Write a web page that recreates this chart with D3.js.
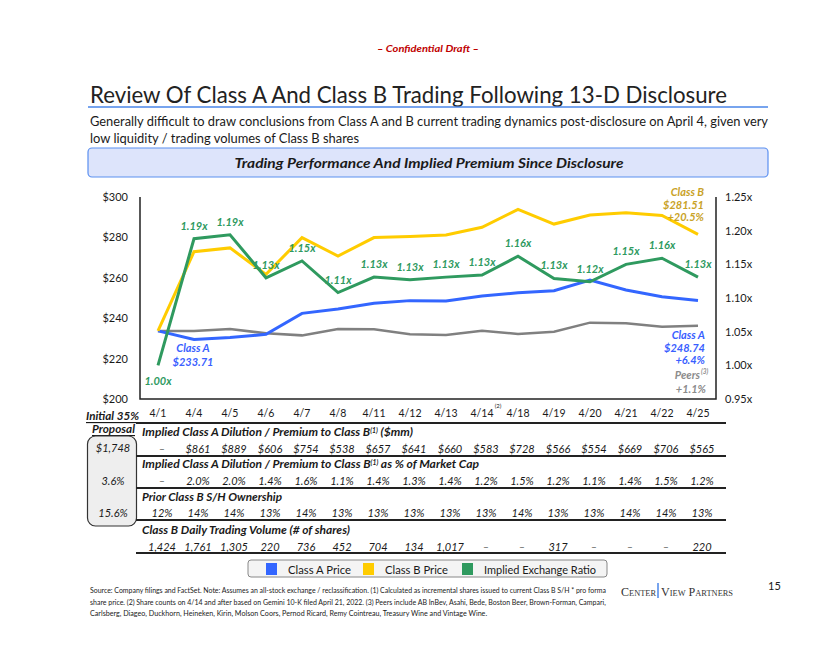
<!DOCTYPE html>
<html>
<head>
<meta charset="utf-8">
<script src="https://cdn.jsdelivr.net/npm/d3@7"></script>
<style>
  body { margin: 0; background: #fff; }
  svg { display: block; font-family: Lato, "Open Sans", sans-serif; }
</style>
</head>
<body>
<div id="chart"></div>
<script>
// chart data
var dates = ["4/1","4/4","4/5","4/6","4/7","4/8","4/11","4/12","4/13","4/14","4/18","4/19","4/20","4/21","4/22","4/25"];
var classA = [233.71,229.5,230.4,232.0,242.4,244.6,247.4,248.7,248.5,251.0,252.6,253.6,258.9,254.0,250.6,248.74];
var classB = [233.71,272.9,274.8,261.7,279.9,270.8,279.9,280.4,281.2,285.0,293.9,286.6,291.1,292.2,290.9,281.51];
var peers = [233.71,233.7,234.7,232.5,231.5,234.7,234.5,232.0,231.7,233.8,232.2,233.3,237.8,237.5,235.8,236.28];
var ratio = [1.00,1.188,1.194,1.130,1.155,1.108,1.131,1.127,1.131,1.134,1.162,1.129,1.124,1.150,1.159,1.131];
var ratioLabels = ["1.00x","1.19x","1.19x","1.13x","1.15x","1.11x","1.13x","1.13x","1.13x","1.13x","1.16x","1.13x","1.12x","1.15x","1.16x","1.13x"];
var priceTicks = [200,220,240,260,280,300];
var ratioTicks = [0.95,1.00,1.05,1.10,1.15,1.20,1.25];

var dilutionMM = ["–","$861","$889","$606","$754","$538","$657","$641","$660","$583","$728","$566","$554","$669","$706","$565"];
var dilutionPct = ["–","2.0%","2.0%","1.4%","1.6%","1.1%","1.4%","1.3%","1.4%","1.2%","1.5%","1.2%","1.1%","1.4%","1.5%","1.2%"];
var priorOwn = ["12%","14%","14%","13%","14%","13%","13%","13%","13%","13%","14%","13%","13%","14%","14%","13%"];
var volume = ["1,424","1,761","1,305","220","736","452","704","134","1,017","–","–","317","–","–","–","220"];
var proposal = ["$1,748","3.6%","15.6%"];

var legendNames = ["Class A Price","Class B Price","Implied Exchange Ratio"];

var blue = "#3366ff", yellow = "#ffcc00", green = "#2f9a5f", grey = "#808080";
var legendColors = [blue, yellow, green];

var W = 840, H = 649;
var svg = d3.select("#chart").append("svg").attr("width", W).attr("height", H);

// small helper for placing text
function txt(x, y, s, o) {
  o = o || {};
  var t = svg.append("text").attr("x", x).attr("y", y)
    .attr("dominant-baseline", "central")
    .style("font-size", (o.size || 11) + "px")
    .style("fill", o.fill || "#1a1a1a")
    .attr("text-anchor", o.anchor || "start")
    .text(s);
  if (o.bold) t.style("font-weight", "bold");
  if (o.weight) t.style("font-weight", o.weight);
  if (o.italic) t.style("font-style", "italic");
  if (o.family) t.style("font-family", o.family);
  if (o.len) t.attr("textLength", o.len).attr("lengthAdjust", "spacingAndGlyphs");
  if (o.fit) {
    // shrink the font so the natural width matches the slide
    var w = t.node().getComputedTextLength();
    t.style("font-size", (o.size * o.fit / w) + "px");
  }
  return t;
}

//////// header
txt(428, 48, "– Confidential Draft –", {size: 10, bold: true, italic: true, fill: "#c00000", anchor: "middle", len: 102});
txt(90, 94, "Review Of Class A And Class B Trading Following 13-D Disclosure", {size: 23.5, len: 637}).style("fill", "#222");
svg.append("line").attr("x1", 88).attr("x2", 768).attr("y1", 107).attr("y2", 107)
  .style("stroke", "#4a86e8").style("stroke-width", 1.5);
txt(90, 121, "Generally difficult to draw conclusions from Class A and B current trading dynamics post-disclosure on April 4, given very", {size: 13, len: 678});
txt(90, 138, "low liquidity / trading volumes of Class B shares", {size: 13, len: 269});
svg.append("rect").attr("x", 88).attr("y", 148).attr("width", 680).attr("height", 29).attr("rx", 4)
  .style("fill", "#dde4fb").style("stroke", "#5a8ff0").style("stroke-width", 1.2);
txt(429, 163, "Trading Performance And Implied Premium Since Disclosure", {size: 13.5, bold: true, italic: true, anchor: "middle", len: 389});

//////// scales
var x = d3.scaleBand().domain(dates).range([140, 716]);
var xc = function(d) { return x(d) + x.bandwidth() / 2; };
var y = d3.scaleLinear().domain([200, 300]).range([399, 197]);
var yR = d3.scaleLinear().domain([0.95, 1.25]).range([399, 197]);

// axes (text only, frame drawn below)
var leftAxis = svg.append("g").attr("transform", "translate(128,0)")
  .call(d3.axisLeft(y).tickValues(priceTicks).tickSize(0).tickFormat(function(d) { return "$" + d; }));
var rightAxis = svg.append("g").attr("transform", "translate(725,0)")
  .call(d3.axisRight(yR).tickValues(ratioTicks).tickSize(0).tickFormat(function(d) { return d3.format(".2f")(d) + "x"; }));
[leftAxis, rightAxis].forEach(function(a) {
  a.select(".domain").remove();
  a.selectAll("text").attr("x", 0).style("font-size", "11px").style("fill", "#1a1a1a")
    .style("font-family", "Lato, sans-serif");
});

svg.append("path").attr("d", "M140,197V399H716V197")
  .style("fill", "none").style("stroke", "#222").style("stroke-width", 1.5);

var bottomAxis = svg.append("g").attr("transform", "translate(0,407)")
  .call(d3.axisBottom(x).tickSize(0));
bottomAxis.select(".domain").remove();
bottomAxis.selectAll("text").style("font-size", "10.5px").style("fill", "#1a1a1a")
  .style("font-family", "Lato, sans-serif");
txt(498, 405, "(2)", {size: 6, anchor: "middle"});

//////// lines
function line(vals, scale) {
  return d3.line().x(function(d, i) { return xc(dates[i]); }).y(function(d) { return scale(d); })(vals);
}
svg.append("path").attr("d", line(peers, y)).style("fill", "none").style("stroke", grey).style("stroke-width", 2.5);
svg.append("path").attr("d", line(classA, y)).style("fill", "none").style("stroke", blue).style("stroke-width", 3);
svg.append("path").attr("d", line(classB, y)).style("fill", "none").style("stroke", yellow).style("stroke-width", 3);
svg.append("path").attr("d", line(ratio, yR)).style("fill", "none").style("stroke", green).style("stroke-width", 3);

// ratio labels
ratio.forEach(function(r, i) {
  var ly = i == 0 ? yR(r) + 15 : yR(r) - 13.5;
  txt(xc(dates[i]), ly, ratioLabels[i], {size: 11, bold: true, italic: true, fill: green, anchor: "middle"});
});

// series call-outs
var gold = "#c9a227", labBlue = "#3a5fff", labGrey = "#8c8c8c";
txt(704, 191, "Class B", {size: 11, bold: true, italic: true, fill: gold, anchor: "end"});
txt(704, 204, "$" + classB[15].toFixed(2), {size: 11, bold: true, italic: true, fill: gold, anchor: "end"});
txt(704, 216.5, "+" + ((classB[15] / classB[0] - 1) * 100).toFixed(1) + "%", {size: 11, bold: true, italic: true, fill: gold, anchor: "end"});
txt(705, 334, "Class A", {size: 11, bold: true, italic: true, fill: labBlue, anchor: "end"});
txt(705, 347, "$" + classA[15].toFixed(2), {size: 11, bold: true, italic: true, fill: labBlue, anchor: "end"});
txt(705, 359.5, "+" + ((classA[15] / classA[0] - 1) * 100).toFixed(1) + "%", {size: 11, bold: true, italic: true, fill: labBlue, anchor: "end"});
txt(700, 374.5, "Peers", {size: 11, bold: true, italic: true, fill: labGrey, anchor: "end"});
txt(701, 371, "(3)", {size: 6.5, bold: true, italic: true, fill: labGrey});
txt(706, 388, "+" + ((peers[15] / peers[0] - 1) * 100).toFixed(1) + "%", {size: 11, bold: true, italic: true, fill: labGrey, anchor: "end"});
txt(193, 347.5, "Class A", {size: 11, bold: true, italic: true, fill: labBlue, anchor: "middle"});
txt(193, 361, "$" + classA[0].toFixed(2), {size: 11, bold: true, italic: true, fill: labBlue, anchor: "middle"});

//////// table
txt(86, 415.5, "Initial 35%", {size: 11.5, bold: true, italic: true, len: 53}).attr("text-decoration", "underline");
txt(135, 428.5, "Proposal", {size: 11.5, bold: true, italic: true, anchor: "end", len: 43}).attr("text-decoration", "underline");
svg.append("rect").attr("x", 87.5).attr("y", 436).attr("width", 49).attr("height", 90).attr("rx", 8)
  .style("fill", "#eeeeee").style("stroke", "#333").style("stroke-width", 1.2);
var boxY = [447.5, 480.5, 512.5];
proposal.forEach(function(p, i) {
  txt(113, boxY[i], p, {size: 11, italic: true, anchor: "middle"});
});

[423, 456, 488, 520, 553].forEach(function(ly) {
  svg.append("line").attr("x1", 136).attr("x2", 726).attr("y1", ly).attr("y2", ly)
    .style("stroke", "#222").style("stroke-width", 1.8);
});

function header(ly, parts, len) {
  var t = svg.append("text").attr("x", 142).attr("y", ly + 4)
    .style("font-size", "11.5px").style("font-weight", "bold").style("font-style", "italic").style("fill", "#1a1a1a");
  parts.forEach(function(p) {
    var s = t.append("tspan").text(p[0]);
    if (p[1]) s.style("font-size", "6.5px").attr("baseline-shift", "super");
  });
  t.attr("textLength", len).attr("lengthAdjust", "spacingAndGlyphs");
}
header(432, [["Implied Class A Dilution / Premium to Class B"], ["(1)", true], [" ($mm)"]], 271);
header(464, [["Implied Class A Dilution / Premium to Class B"], ["(1)", true], [" as % of Market Cap"]], 337);
header(497, [["Prior Class B S/H Ownership"]], 140);
header(530, [["Class B Daily Trading Volume (# of shares)"]], 208);

var rows = [[dilutionMM, 448], [dilutionPct, 480.5], [priorOwn, 512.5], [volume, 546]];
rows.forEach(function(r) {
  svg.append("g").selectAll("text").data(r[0]).enter().append("text")
    .attr("x", function(d, i) { return xc(dates[i]) + 4; })
    .attr("y", r[1])
    .attr("dominant-baseline", "central")
    .attr("text-anchor", "middle")
    .style("font-size", "11px").style("font-style", "italic").style("fill", "#1a1a1a")
    .text(function(d) { return d; });
});

//////// legend
svg.append("rect").attr("x", 248).attr("y", 560).attr("width", 359).attr("height", 17).attr("rx", 3)
  .style("fill", "#f4f4f4").style("stroke", "#888").style("stroke-width", 1);
var legX = [266, 363, 462];
var legLen = [63, 63, 112];
legendNames.forEach(function(n, i) {
  svg.append("rect").attr("x", legX[i]).attr("y", 563).attr("width", 11).attr("height", 12).style("fill", legendColors[i]);
  txt(legX[i] + 22, 569, n, {size: 12, len: legLen[i]});
});

//////// footer
var foot = [
  "Source: Company filings and FactSet. Note: Assumes an all-stock exchange / reclassification. (1) Calculated as incremental shares issued to current Class B S/H * pro forma",
  "share price. (2) Share counts on 4/14 and after based on Gemini 10-K filed April 21, 2022. (3) Peers include AB InBev, Asahi, Bede, Boston Beer, Brown-Forman, Campari,",
  "Carlsberg, Diageo, Duckhorn, Heineken, Kirin, Molson Coors, Pernod Ricard, Remy Cointreau, Treasury Wine and Vintage Wine."
];
var footLen = [516, 516, 398];
foot.forEach(function(f, i) {
  txt(90, 590 + i * 11.5, f, {size: 7.3, fit: footLen[i]});
});
txt(621, 591, "Center", {size: 13, family: "Liberation Serif, serif", fill: "#333", len: 35}).style("font-variant", "small-caps");
svg.append("line").attr("x1", 658).attr("x2", 658).attr("y1", 583).attr("y2", 598).style("stroke", "#4a86e8").style("stroke-width", 1.5);
txt(661, 591, "View Partners", {size: 13, family: "Liberation Serif, serif", fill: "#333", len: 72}).style("font-variant", "small-caps");
txt(768, 585, "15", {size: 11});
</script>
</body>
</html>
